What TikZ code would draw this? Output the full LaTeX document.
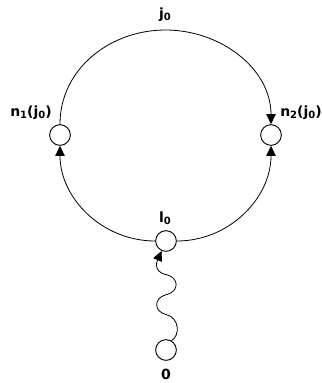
\documentclass[tikz,border=0pt]{standalone}
\usepackage{fontspec}
\setmainfont{DejaVu Sans}
\usetikzlibrary{arrows.meta,calc}
\newcommand{\mysub}[1]{\raisebox{-0.25ex}{\fontsize{7.5pt}{8pt}\selectfont\bfseries #1}}
\tikzset{
  vtx/.style={circle,draw,line width=0.7pt,minimum size=15.5pt,inner sep=0pt,fill=white},
  lbl/.style={font=\fontsize{10.5pt}{12pt}\selectfont\bfseries,inner sep=0pt},
  edge/.style={line width=0.6pt,-{Triangle[length=7.5pt,width=7pt]}}
}
\begin{document}
\begin{tikzpicture}[x=0.75pt,y=-0.75pt]
\useasboundingbox (0,0) rectangle (322,383);
\node[vtx] (n1) at (60,135) {};
\node[vtx] (n2) at (271,135) {};
\node[vtx] (l0) at (166,241) {};
\node[vtx] (zero) at (166,350) {};
\coordinate (top) at (165.5,30);
\node[lbl] (tj) at (165,15) {j\mysub{0}};
\node[lbl] (tn1) at (31,113) {n\mysub{1}(j\mysub{0})};
\node[lbl] (tn2) at (301,113) {n\mysub{2}(j\mysub{0})};
\node[lbl] (tl) at (165,218) {l\mysub{0}};
\node[lbl] (tz) at (166,374) {0};
\draw[edge] (n1) to[out=90,in=180] (top) to[out=0,in=90] (n2);
\draw[edge] (l0) to[out=180,in=270] (n1);
\draw[edge] (l0) to[out=0,in=270] (n2);
\draw[edge] (zero.60) .. controls +(9,-5) and +(13,3) .. ++(-5,-26)
  .. controls +(-13,-3) and +(-13,3) .. ++(0,-20)
  .. controls +(13,-3) and +(13,3) .. ++(0,-20)
  .. controls +(-15,-3) and ($(l0)+(-8,18)$) .. (l0);
\end{tikzpicture}
\end{document}
